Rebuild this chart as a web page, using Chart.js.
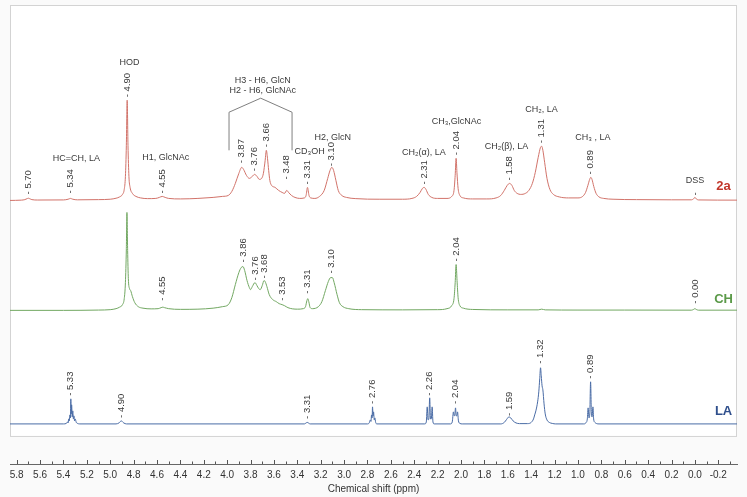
<!DOCTYPE html>
<html lang="en">
<head>
    <meta charset="UTF-8">
    <title>1H NMR spectra</title>
    <script src="https://cdn.jsdelivr.net/npm/chart.js"></script>
    <style>
        body {
            margin: 0;
            padding: 0;
            background-color: #fafafa;
        }
        #chart-container {
            width: 747px;
            height: 497px;
        }
    </style>
</head>
<body>
    <div id="chart-container">
        <canvas id="nmrChart"></canvas>
    </div>

    <script>
        // spectrum 2a (ppm / intensity)
        const ppm2a = [5.857, 5.76, 5.73, 5.71, 5.70, 5.69, 5.67, 5.62, 5.40, 5.36, 5.34, 5.32, 5.28, 5.10, 5.00, 4.95, 4.92, 4.895, 4.88, 4.87, 4.862, 4.855, 4.848, 4.84, 4.83, 4.81, 4.78, 4.74, 4.68, 4.61, 4.58, 4.555, 4.53, 4.50, 4.40, 4.25, 4.12, 4.04, 3.99, 3.96, 3.93, 3.90, 3.875, 3.86, 3.835, 3.81, 3.785, 3.765, 3.745, 3.725, 3.705, 3.69, 3.675, 3.665, 3.655, 3.645, 3.635, 3.62, 3.59, 3.56, 3.53, 3.51, 3.49, 3.475, 3.45, 3.42, 3.38, 3.34, 3.325, 3.313, 3.30, 3.285, 3.25, 3.21, 3.17, 3.14, 3.12, 3.105, 3.09, 3.07, 3.05, 3.02, 2.98, 2.90, 2.70, 2.50, 2.42, 2.38, 2.35, 2.33, 2.315, 2.30, 2.28, 2.25, 2.20, 2.12, 2.08, 2.06, 2.05, 2.042, 2.035, 2.025, 2.01, 1.98, 1.90, 1.78, 1.70, 1.66, 1.63, 1.605, 1.585, 1.565, 1.545, 1.52, 1.49, 1.45, 1.42, 1.39, 1.365, 1.34, 1.32, 1.31, 1.30, 1.285, 1.265, 1.24, 1.21, 1.16, 1.08, 1.00, 0.96, 0.935, 0.915, 0.90, 0.89, 0.88, 0.865, 0.845, 0.82, 0.78, 0.70, 0.50, 0.20, 0.03, 0.012, 0.0, -0.012, -0.03, -0.36];
        const int2a = [0, 0.3, 0.8, 1.8, 2.2, 1.8, 0.8, 0.4, 0.5, 1.2, 2, 1.2, 0.6, 0.8, 1.2, 2.2, 3.5, 6, 11, 24, 55, 100, 55, 24, 13, 7, 4, 2.5, 1.8, 2, 3, 4, 3, 2, 1.5, 2, 3, 4, 5, 9, 17, 27, 33, 31, 25, 22, 24, 26, 24, 21, 22, 27, 40, 50, 42, 30, 20, 15, 13, 10, 8, 7, 10, 8, 5, 3, 2, 2.5, 5, 13, 5, 2.5, 2, 4, 10, 22, 30, 33, 30, 20, 10, 5, 3, 1.8, 1.2, 1.2, 2, 4, 8, 12, 13, 11, 6, 3, 2, 2, 4, 10, 25, 42, 28, 12, 5, 2.5, 1.5, 1.5, 2.5, 5, 10, 15, 17, 15, 10, 7, 6, 7, 10, 17, 28, 43, 53, 54, 50, 38, 22, 11, 6, 3.5, 2.5, 2.5, 4, 8, 15, 21, 23, 21, 14, 7, 3.5, 2, 1.2, 0.8, 0.6, 0.6, 1.5, 3, 1.5, 0.5, 0.3];

        // spectrum CH
        const ppmCH = [5.857, 5.40, 5.10, 5.00, 4.95, 4.92, 4.895, 4.88, 4.87, 4.862, 4.857, 4.851, 4.845, 4.835, 4.825, 4.81, 4.79, 4.76, 4.72, 4.65, 4.59, 4.565, 4.55, 4.535, 4.50, 4.40, 4.25, 4.12, 4.04, 3.99, 3.96, 3.93, 3.90, 3.88, 3.865, 3.85, 3.83, 3.81, 3.80, 3.785, 3.762, 3.745, 3.73, 3.717, 3.70, 3.685, 3.675, 3.66, 3.64, 3.61, 3.58, 3.555, 3.53, 3.51, 3.48, 3.44, 3.40, 3.35, 3.33, 3.318, 3.31, 3.302, 3.29, 3.27, 3.22, 3.19, 3.16, 3.135, 3.115, 3.10, 3.085, 3.06, 3.04, 3.01, 2.96, 2.85, 2.50, 2.20, 2.12, 2.08, 2.06, 2.05, 2.042, 2.034, 2.025, 2.01, 1.98, 1.90, 1.60, 1.34, 1.31, 1.28, 1.00, 0.60, 0.03, 0.012, 0.0, -0.012, -0.03, -0.36];
        const intCH = [0.3, 0.3, 0.6, 1, 2, 3.5, 6, 12, 28, 62, 98, 60, 32, 22, 20, 14, 8, 4, 2.5, 1.8, 2, 3, 3.5, 3, 2, 1.3, 1.5, 2.5, 4, 6, 13, 26, 38, 43, 44, 40, 30, 23, 21, 24, 28, 25, 22, 21, 25, 30, 29, 24, 16, 11, 9, 7, 6, 5, 3, 1.8, 1.5, 2, 4, 10, 12, 9, 3, 2, 4, 9, 20, 29, 33, 33, 28, 16, 8, 4, 2, 1, 0.8, 1, 2, 5, 12, 28, 46, 30, 13, 5, 2.5, 1.2, 0.8, 0.8, 1.5, 0.8, 0.6, 0.6, 0.5, 1.2, 2, 1.2, 0.5, 0.5];

        // spectrum LA
        const ppmLA = [5.857, 5.40, 5.375, 5.365, 5.36, 5.355, 5.35, 5.345, 5.34, 5.337, 5.333, 5.33, 5.325, 5.32, 5.315, 5.31, 5.305, 5.30, 5.29, 5.28, 5.26, 4.95, 4.925, 4.905, 4.885, 4.86, 3.34, 3.315, 3.29, 2.80, 2.785, 2.775, 2.77, 2.765, 2.76, 2.757, 2.752, 2.748, 2.742, 2.737, 2.73, 2.72, 2.31, 2.297, 2.289, 2.282, 2.275, 2.268, 2.261, 2.254, 2.247, 2.24, 2.23, 2.09, 2.075, 2.065, 2.058, 2.053, 2.047, 2.041, 2.036, 2.03, 2.022, 2.01, 1.99, 1.66, 1.63, 1.61, 1.59, 1.575, 1.555, 1.53, 1.50, 1.43, 1.40, 1.38, 1.37, 1.36, 1.345, 1.335, 1.327, 1.32, 1.314, 1.307, 1.30, 1.29, 1.28, 1.265, 1.245, 1.22, 1.19, 0.95, 0.93, 0.92, 0.913, 0.906, 0.899, 0.892, 0.885, 0.879, 0.872, 0.866, 0.855, 0.84, 0.82, -0.36];
        const intLA = [0, 0, 0.5, 2, 1, 5, 3, 9, 6, 25, 10, 19, 7, 13, 5, 8, 3, 5, 1.5, 0.5, 0, 0, 1, 3, 1, 0, 0, 1.5, 0, 0, 1, 4, 2.5, 9, 6, 17, 8, 12, 4, 6, 1.5, 0, 0, 2, 17, 4, 5, 26, 5, 5, 17, 2, 0, 0, 2, 12, 8, 9, 16, 8, 8, 12, 3, 0.5, 0, 0, 1.5, 4.5, 7, 6, 3, 1, 0.3, 0.3, 1.5, 5, 9, 13, 22, 32, 45, 56, 48, 38, 34, 20, 10, 4, 1.5, 0.5, 0, 0, 1.5, 5, 16, 6, 10, 42, 10, 7, 17, 5, 1.5, 0.3, 0, 0];

        // picked peaks: [ppm, label, height of the label foot]
        const picks2a = [[5.70, '5.70', 3], [5.34, '5.34', 4], [4.855, '4.90', 100], [4.555, '4.55', 4], [3.875, '3.87', 34], [3.765, '3.76', 26], [3.665, '3.66', 50], [3.49, '3.48', 18], [3.313, '3.31', 13], [3.105, '3.10', 31], [2.315, '2.31', 13], [2.042, '2.04', 42], [1.585, '1.58', 17], [1.31, '1.31', 54], [0.89, '0.89', 23], [0.0, '', 2]];
        const picksCH = [[4.55, '4.55', 7], [3.865, '3.86', 45], [3.762, '3.76', 27], [3.68, '3.68', 29], [3.527, '3.53', 7], [3.31, '3.31', 14], [3.105, '3.10', 34], [2.042, '2.04', 46], [0.0, '0.00', 4]];
        const picksLA = [[5.337, '5.33', 25], [4.905, '4.90', 3], [3.315, '3.31', 2], [2.757, '2.76', 17], [2.268, '2.26', 25], [2.047, '2.04', 17], [1.59, '1.59', 5], [1.32, '1.32', 57], [0.892, '0.89', 42]];

        // assignments over spectrum 2a: [text, ppm, height]
        const notes2a = [['HOD', 4.835, 138], ['HC=CH, LA', 5.289, 42], ['H1, GlcNAc', 4.525, 43], ['H3 - H6, GlcN', 3.695, 120], ['H2 - H6, GlcNAc', 3.695, 110], ['CD\u2083OH', 3.295, 49], ['H2, GlcN', 3.097, 63], ['CH\u2082(\u03b1), LA', 2.318, 48], ['CH\u2083,GlcNAc', 2.039, 79], ['CH\u2082(\u03b2), LA', 1.611, 54], ['CH\u2082, LA', 1.311, 91], ['CH\u2083 , LA', 0.873, 63], ['DSS', 0.0, 20]];
        const bracketPpm = [3.984, 3.984, 3.713, 3.445, 3.445];
        const bracketInt = [50, 88, 102, 88, 50];

        const baselines = { a: 263, ch: 153, la: 40 };
        const FONT = "'Liberation Sans', Arial, sans-serif";

        const toPoints = (xs, ys, base) => xs.map((x, i) => ({ x: x, y: base + ys[i] }));

        const spectra = [
            { name: '2a', ppm: ppm2a, int: int2a, base: baselines.a, line: '#d2736a', text: '#c2372c', picks: picks2a },
            { name: 'CH', ppm: ppmCH, int: intCH, base: baselines.ch, line: '#72a862', text: '#5b9a49', picks: picksCH },
            { name: 'LA', ppm: ppmLA, int: intLA, base: baselines.la, line: '#4a6ca6', text: '#2f4f8c', picks: picksLA }
        ];

        const annotations = {
            id: 'annotations',
            beforeDraw(chart) {
                const { ctx, chartArea: a, scales: { y } } = chart;
                ctx.save();
                ctx.fillStyle = '#fafafa';
                ctx.fillRect(0, 0, chart.width, chart.height);
                const bottom = y.getPixelForValue(28);
                ctx.fillStyle = '#ffffff';
                ctx.fillRect(a.left, a.top, a.right - a.left, bottom - a.top);
                ctx.strokeStyle = '#d3d3d3';
                ctx.lineWidth = 1;
                ctx.strokeRect(a.left + 0.5, a.top + 0.5, a.right - a.left - 1, bottom - a.top);
                ctx.restore();
            },
            afterDraw(chart) {
                const { ctx, chartArea: a, scales: { x, y } } = chart;
                const px = v => x.getPixelForValue(v);
                const py = v => y.getPixelForValue(v);
                ctx.save();

                // small upward ticks on the ppm axis
                ctx.strokeStyle = '#555';
                ctx.lineWidth = 1;
                x.ticks.forEach(t => {
                    const major = Math.round(t.value * 10) % 2 === 0;
                    const xx = Math.round(px(t.value)) + 0.5;
                    ctx.beginPath();
                    ctx.moveTo(xx, a.bottom);
                    ctx.lineTo(xx, a.bottom - (major ? 4 : 2.5));
                    ctx.stroke();
                });

                // peak picks (rotated)
                ctx.fillStyle = '#3a3a3a';
                ctx.font = '9.5px ' + FONT;
                spectra.forEach(s => {
                    s.picks.forEach(p => {
                        ctx.save();
                        ctx.translate(px(p[0]), py(s.base + p[2]) - 3);
                        ctx.rotate(-Math.PI / 2);
                        ctx.textAlign = 'left';
                        ctx.textBaseline = 'middle';
                        ctx.fillText(p[1] ? '- ' + p[1] : '-', 0, 0);
                        ctx.restore();
                    });
                });

                // assignments
                ctx.font = '9px ' + FONT;
                ctx.textAlign = 'center';
                ctx.textBaseline = 'middle';
                notes2a.forEach(n => {
                    ctx.fillText(n[0], px(n[1]), py(baselines.a + n[2]));
                });

                // bracket
                ctx.strokeStyle = '#808080';
                ctx.beginPath();
                bracketPpm.forEach((p, i) => {
                    const xx = px(p), yy = py(baselines.a + bracketInt[i]);
                    if (i === 0) ctx.moveTo(xx, yy); else ctx.lineTo(xx, yy);
                });
                ctx.stroke();

                // sample names
                ctx.font = 'bold 13px ' + FONT;
                const nameH = { '2a': 14, 'CH': 11, 'LA': 12 };
                spectra.forEach(s => {
                    ctx.fillStyle = s.text;
                    ctx.fillText(s.name, px(-0.245), py(s.base + nameH[s.name]));
                });
                ctx.restore();
            }
        };

        const ctx = document.getElementById('nmrChart').getContext('2d');

        const chart = new Chart(ctx, {
            type: 'line',
            data: {
                datasets: spectra.map(s => ({
                    label: s.name,
                    data: toPoints(s.ppm, s.int, s.base),
                    borderColor: s.line,
                    borderWidth: 1,
                    pointRadius: 0,
                    cubicInterpolationMode: 'monotone',
                    fill: false
                }))
            },
            options: {
                responsive: true,
                maintainAspectRatio: false,
                animation: false,
                layout: {
                    padding: { top: 5, left: 10, right: 10, bottom: 2 }
                },
                scales: {
                    x: {
                        type: 'linear',
                        reverse: true,
                        min: -0.36,
                        max: 5.857,
                        grid: { display: false, drawTicks: false },
                        border: { display: true, color: '#666', width: 1 },
                        ticks: {
                            stepSize: 0.1,
                            includeBounds: false,
                            autoSkip: false,
                            maxRotation: 0,
                            padding: 5,
                            color: '#333',
                            font: { family: FONT, size: 10 },
                            callback: v => {
                                const n = Math.round(v * 10);
                                if (n % 2 !== 0) return '';
                                return n === 0 ? '0.0' : (n / 10).toFixed(1);
                            }
                        },
                        title: {
                            display: true,
                            text: 'Chemical shift (ppm)',
                            color: '#333',
                            font: { family: FONT, size: 10 },
                            padding: { top: -3, bottom: 0 }
                        }
                    },
                    y: {
                        display: false,
                        min: 0,
                        max: 458
                    }
                },
                plugins: {
                    legend: { display: false },
                    tooltip: { enabled: false }
                }
            },
            plugins: [annotations]
        });
    </script>
</body>
</html>
